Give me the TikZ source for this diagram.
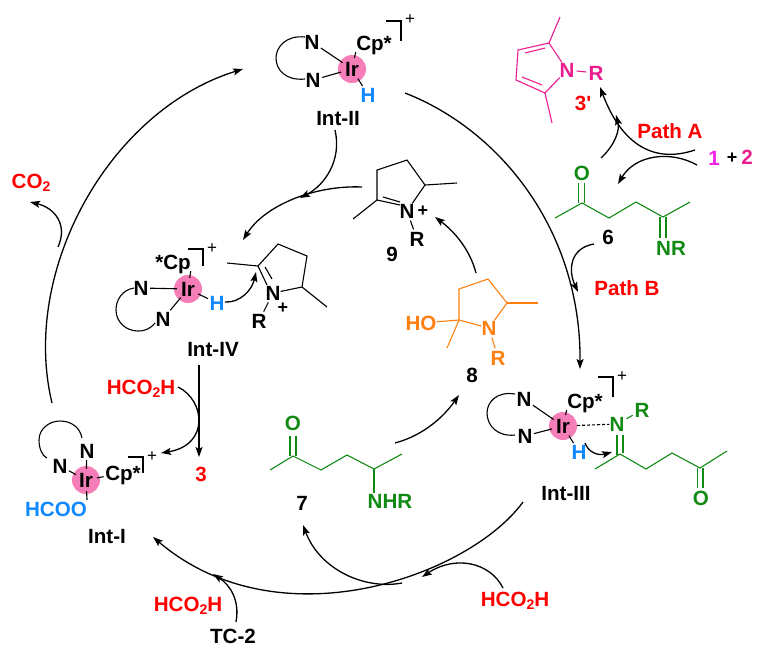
\documentclass[tikz,border=0pt]{standalone}
\usepackage{fontspec}
\setmainfont{Liberation Sans}
\usetikzlibrary{arrows.meta}
\definecolor{irpink}{HTML}{F57DB8}
\definecolor{hotpink}{HTML}{EC1C8E}
\definecolor{lilac}{HTML}{F020E8}
\definecolor{grn}{HTML}{118A14}
\definecolor{orng}{HTML}{FF8010}
\definecolor{hblue}{HTML}{1088FF}
\newcommand{\subtwo}{\raisebox{-3.5pt}{\fontsize{14}{14}\selectfont 2}}
\tikzset{
  atom/.style={font=\fontsize{20.6}{22}\selectfont\bfseries, inner sep=0pt, text height=14.8pt, text depth=0pt},
  metal/.style={atom, circle, fill=irpink, minimum size=28pt},
  chg/.style={font=\fontsize{18}{18}\selectfont\bfseries, inner sep=0pt},
  brk/.style={font=\fontsize{17}{18}\selectfont, inner sep=0pt},
  bond/.style={line width=1.1pt},
  mbond/.style={bond, shorten <=1.5pt, shorten >=-3pt},
  nbond/.style={bond, shorten <=2pt, shorten >=2pt},
  cyc/.style={line width=1.3pt, ->},
}
\begin{document}
\begin{tikzpicture}[x=1pt, y=-1pt, >={Stealth[length=10pt,width=7pt,inset=2pt]}]
  \useasboundingbox (0,0) rectangle (763,654);
  % Int-II
  \node[metal] (ir2) at (352,69) {Ir};
  \node[atom] (n2a) at (312,42) {N};
  \node[atom] (n2b) at (313,80) {N};
  \node[atom] (cp2) at (374,43) {Cp*};
  \node[atom, hblue] (h2) at (368,95) {H};
  \node[atom] (lab2) at (338,118) {Int-II};
  \node[brk] (pl2) at (410,20) {+};
  \draw[mbond] (n2a) -- (ir2);
  \draw[mbond] (n2b) -- (ir2);
  \draw[mbond] (cp2.south west) -- (ir2);
  \draw[mbond] (h2) -- (ir2);
  \draw[bond] (305,37) .. controls (286,35) and (276,47) .. (276,58) .. controls (276,70) and (286,81) .. (305,79);
  \draw[bond] (386,21) -- (401,21) -- (401,41);
  % Int-IV
  \node[metal] (ir4) at (188,289) {Ir};
  \node[atom] (n4a) at (141,288) {N};
  \node[atom] (n4b) at (163,319) {N};
  \node[atom] (cp4) at (173,262) {*Cp};
  \node[atom, hblue] (h4) at (217,303) {H};
  \node[atom] (lab4) at (213,349) {Int-IV};
  \node[atom] (n4c) at (273,293) {N};
  \node[atom] (r4) at (259,321) {R};
  \node[chg] (pc4) at (283,308) {+};
  \node[brk] (pl4) at (212,249) {+};
  \draw[mbond] (n4a) -- (ir4);
  \draw[mbond] (n4b) -- (ir4);
  \draw[mbond] (cp4.south east) -- (ir4);
  \draw[mbond] (h4) -- (ir4);
  \draw[bond] (134,288) .. controls (122,290) and (116,300) .. (116,310) .. controls (116,322) and (126,331) .. (138,331) .. controls (146,331) and (151,328) .. (155,323);
  \draw[bond] (188,249) -- (203,249) -- (203,266);
  \draw[bond] (227,263) -- (258,266) -- (278,244) -- (307,256) -- (302,287) -- (n4c);
  \draw[bond] (302,287) -- (327,307);
  \draw[bond] (258,266) -- (267,285);
  \draw[bond] (265,267) -- (272,279);
  \draw[nbond] (n4c) -- (r4);
  % pyrrole 3'
  \node[atom, hotpink] (n3) at (567,70) {N};
  \node[atom, hotpink] (r3) at (596,73) {R};
  \node[atom, red] (lab3p) at (583,103) {3\textquotesingle};
  \draw[bond, hotpink] (n3) -- (549,43) -- (518,50) -- (516,80) -- (545,93) -- (n3);
  \draw[bond, hotpink] (549,43) -- (560,17);
  \draw[bond, hotpink] (545,93) -- (552,123);
  \draw[bond, hotpink] (525,53) -- (545,48);
  \draw[bond, hotpink] (522,77) -- (542,85);
  \draw[nbond, hotpink] (n3) -- (r3);
  % 1 + 2
  \node[atom, red] (patha) at (670,131) {Path A};
  \node[atom, lilac] (one) at (714,158) {1};
  \node[chg] (plus) at (732,158) {+};
  \node[atom, hotpink] (two) at (747,157) {2};
  % 6
  \node[atom, grn] (o6) at (582,173) {O};
  \node[atom, grn] (nr6) at (671,248) {NR};
  \node[atom] (lab6) at (608,237) {6};
  \node[atom, red] (pathb) at (627,288) {Path B};
  \draw[bond, grn] (555,218) -- (582,203) -- (609,218) -- (636,202) -- (663,217) -- (690,202);
  \draw[bond, grn] (578.5,183) -- (578.5,203);
  \draw[bond, grn] (584.5,183) -- (584.5,203);
  \draw[bond, grn] (660,217) -- (660,238);
  \draw[bond, grn] (666,217) -- (666,238);
  % 9
  \node[atom] (n9) at (407,211) {N};
  \node[chg] (pc9) at (423,211) {+};
  \node[atom] (r9) at (417,239) {R};
  \node[atom] (lab9) at (392,254) {9};
  \draw[bond] (377,200) -- (377,170) -- (407,160) -- (425,185) -- (n9);
  \draw[bond] (425,185) -- (457,183);
  \draw[bond] (377,200) -- (353,219);
  \draw[bond] (377,200) -- (400,205);
  \draw[bond] (383,197) -- (400,202);
  \draw[nbond] (n9) -- (r9);
  % 8
  \node[atom, orng] (n8) at (489,328) {N};
  \node[atom, orng] (r8) at (498,358) {R};
  \node[atom, orng] (ho8) at (421,323) {HO};
  \node[atom] (lab8) at (472,375) {8};
  \draw[bond, orng] (n8) -- (459,320) -- (459,289) -- (488,279) -- (507,303) -- (n8);
  \draw[bond, orng] (507,303) -- (538,303);
  \draw[bond, orng] (459,320) -- (447,348);
  \draw[bond, orng] (459,320) -- (ho8);
  \draw[nbond, orng] (n8) -- (r8);
  % 7
  \node[atom, grn] (o7) at (293,423) {O};
  \node[atom, grn] (nhr7) at (390,501) {NHR};
  \node[atom] (lab7) at (302,503) {7};
  \draw[bond, grn] (270,470) -- (293,456) -- (321,470) -- (347,455) -- (374,469) -- (402,454);
  \draw[bond, grn] (290,436) -- (290,456);
  \draw[bond, grn] (296,436) -- (296,456);
  \draw[bond, grn] (374,469) -- (nhr7.north -| 374,469);
  % Int-III
  \node[metal] (ir3) at (563,426) {Ir};
  \node[atom] (n3a) at (524,399) {N};
  \node[atom] (n3b) at (525,436) {N};
  \node[atom] (cp3) at (585,401) {Cp*};
  \node[atom, hblue] (h3) at (579,452) {H};
  \node[atom, grn] (n3c) at (617,424) {N};
  \node[atom, grn] (r3c) at (642,410) {R};
  \node[atom, grn] (o3) at (701,498) {O};
  \node[atom] (lab3) at (566,493) {Int-III};
  \node[brk] (pl3) at (622,377) {+};
  \draw[mbond] (n3a) -- (ir3);
  \draw[mbond] (n3b) -- (ir3);
  \draw[mbond] (cp3.south west) -- (ir3);
  \draw[mbond] (h3) -- (ir3);
  \draw[bond] (515,394) .. controls (497,391) and (487,402) .. (487,413) .. controls (487,426) and (498,437) .. (515,435);
  \draw[bond] (598,377) -- (613,377) -- (613,397);
  \draw[bond, densely dashed] (ir3) -- (n3c);
  \draw[nbond, grn] (n3c) -- (r3c);
  \draw[bond, grn] (617,435) -- (617,455);
  \draw[bond, grn] (623,435) -- (623,453);
  \draw[bond, grn] (595,469) -- (620,454) -- (646,469) -- (672,453) -- (700,468) -- (727,451);
  \draw[bond, grn] (697.5,468) -- (697.5,488);
  \draw[bond, grn] (703,468) -- (703,488);
  % Int-I
  \node[metal] (ir1) at (86,480) {Ir};
  \node[atom] (n1a) at (87,451) {N};
  \node[atom] (n1b) at (60,466) {N};
  \node[atom] (cp1) at (123,473) {Cp*};
  \node[atom, hblue] (hcoo) at (56,509) {HCOO};
  \node[atom] (lab1) at (107,536) {Int-I};
  \node[brk] (pl1) at (152,457) {+};
  \node[atom, red] (three) at (201,474) {3};
  \draw[mbond] (n1a) -- (ir1);
  \draw[mbond] (n1b) -- (ir1);
  \draw[mbond] (cp1) -- (ir1);
  \draw[mbond] (hcoo.north east) -- (ir1);
  \draw[bond] (47,458) .. controls (42,456) and (39,448) .. (39,440) .. controls (39,429) and (49,421) .. (60,421) .. controls (72,421) and (80,428) .. (82,438);
  \draw[bond] (128,457) -- (143,457) -- (143,473);
  % reagents
  \node[atom, red] (co2) at (31,181) {CO\subtwo};
  \node[atom, red] (acid1) at (141,387) {HCO\subtwo H};
  \node[atom, red] (acid2) at (188,604) {HCO\subtwo H};
  \node[atom, red] (acid3) at (515,599) {HCO\subtwo H};
  \node[atom] (tc) at (233,636) {TC-2};
  % cycle and side arrows
  \coordinate (oneOut) at (52,403);    \coordinate (twoIn) at (243,69);
  \coordinate (co2Out) at (58,247);    \coordinate (co2In) at (30,202);
  \coordinate (twoOut) at (335,130);   \coordinate (twoTip) at (300,198);
  \coordinate (nineOut) at (362,187);  \coordinate (fourIn) at (243,240);
  \coordinate (twoRight) at (405,93);  \coordinate (threeIn) at (580,369);
  \coordinate (threeOut) at (523,502); \coordinate (oneIn) at (153,537);
  \coordinate (acid3Out) at (503,588); \coordinate (acid3In) at (422,577);
  \coordinate (sevenOut) at (402,583); \coordinate (sevenIn) at (303,525);
  \coordinate (tcOut) at (236,622);    \coordinate (tcIn) at (213,574);
  \coordinate (eightOut) at (395,443); \coordinate (eightIn) at (459,395);
  \coordinate (nineFrom) at (476,273); \coordinate (nineIn) at (435,217);
  \coordinate (fourOut) at (199,365);  \coordinate (threeTop) at (199,457);
  \coordinate (acid1Out) at (178,387); \coordinate (acid1In) at (161,453);
  \coordinate (hFour) at (225,302);    \coordinate (cFour) at (256,272);
  \coordinate (hThree) at (585,443);   \coordinate (cThree) at (612,452);
  \coordinate (pathOut) at (695,150);  \coordinate (pyrIn) at (600,87);
  \coordinate (sixUp) at (601,158);    \coordinate (sixTip) at (616,115);
  \coordinate (sixFrom) at (697,165);  \coordinate (sixIn) at (618,184);
  \coordinate (sixOut) at (594,244);   \coordinate (bIn) at (578,292);
  \draw[cyc] (oneOut) .. controls (20,270) and (110,110) .. (twoIn);
  \draw[cyc] (co2Out) .. controls (68,225) and (55,208) .. (co2In);
  \draw[cyc] (twoOut) .. controls (342,160) and (325,185) .. (twoTip);
  \draw[cyc] (nineOut) .. controls (315,185) and (265,205) .. (fourIn);
  \draw[cyc] (twoRight) .. controls (500,130) and (581,230) .. (threeIn);
  \draw[cyc] (threeOut) .. controls (470,575) and (280,645) .. (oneIn);
  \draw[cyc] (acid3Out) .. controls (490,562) and (455,555) .. (acid3In);
  \draw[cyc] (sevenOut) .. controls (365,590) and (320,570) .. (sevenIn);
  \draw[cyc] (tcOut) .. controls (240,600) and (230,585) .. (tcIn);
  \draw[cyc] (eightOut) .. controls (425,435) and (445,415) .. (eightIn);
  \draw[cyc] (nineFrom) .. controls (470,250) and (455,232) .. (nineIn);
  \draw[cyc] (fourOut) -- (threeTop);
  \draw[cyc] (acid1Out) .. controls (205,400) and (210,445) .. (acid1In);
  \draw[cyc] (hFour) .. controls (240,303) and (252,290) .. (cFour);
  \draw[cyc] (hThree) .. controls (588,452) and (598,456) .. (cThree);
  \draw[cyc] (pathOut) .. controls (650,165) and (620,140) .. (pyrIn);
  \draw[cyc] (sixUp) .. controls (615,145) and (620,130) .. (sixTip);
  \draw[cyc] (sixFrom) .. controls (670,150) and (635,155) .. (sixIn);
  \draw[cyc] (sixOut) .. controls (570,248) and (568,270) .. (bIn);
\end{tikzpicture}
\end{document}
